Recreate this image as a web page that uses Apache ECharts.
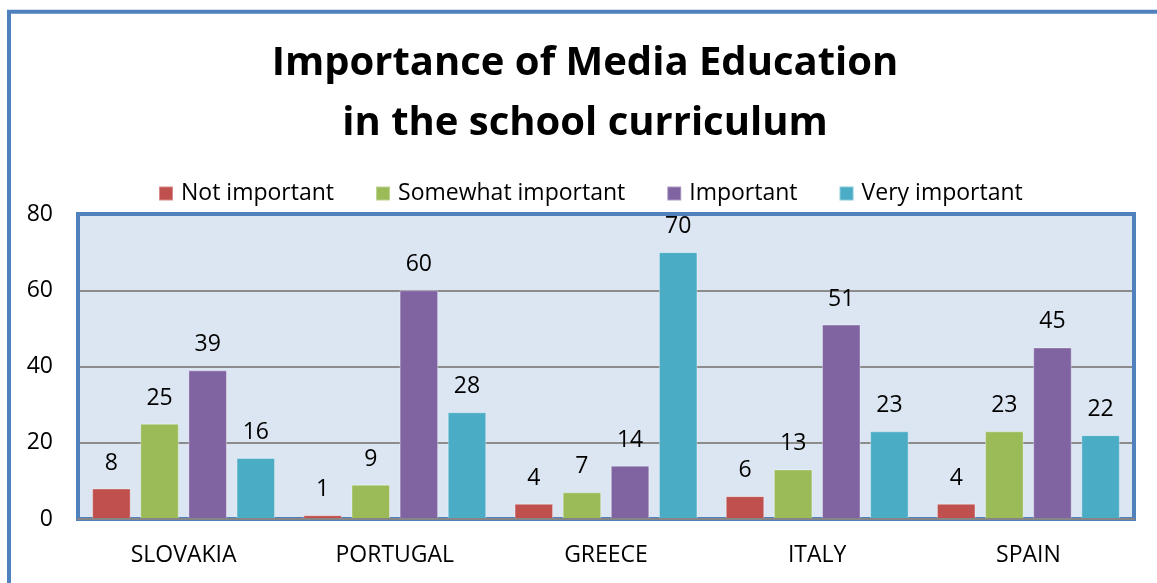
<!DOCTYPE html>
<html>
<head>
<meta charset="utf-8">
<script src="https://cdn.jsdelivr.net/npm/echarts@6/dist/echarts.min.js"></script>
<style>
  html, body { margin: 0; padding: 0; background: #ffffff; }
  #chart { width: 1157px; height: 583px; }
</style>
</head>
<body>
<div id="chart"></div>
<script>
// Survey results by country (percent of respondents)
const countries = ['SLOVAKIA', 'PORTUGAL', 'GREECE', 'ITALY', 'SPAIN'];
const seriesNames = ['Not important', 'Somewhat important', 'Important', 'Very important'];
const notImportant = [8, 1, 4, 6, 4];
const somewhatImportant = [25, 9, 7, 13, 23];
const important = [39, 60, 14, 51, 45];
const veryImportant = [16, 28, 70, 23, 22];
const yTicks = [0, 20, 40, 60, 80];
const titleText = 'Importance of Media Education\nin the school curriculum';

const colors = ['#c0504d', '#9bbb59', '#8064a2', '#4bacc6'];
const FONT = '"Open Sans", "DejaVu Sans", sans-serif';

const gridBox = { left: 78, top: 214, right: 23, bottom: 64 };
const W = 1157, H = 583;

const values = [notImportant, somewhatImportant, important, veryImportant];

const chart = echarts.init(document.getElementById('chart'), null, { renderer: 'canvas' });

chart.setOption({
  animation: false,
  backgroundColor: '#ffffff',
  legend: {
    data: seriesNames,
    left: 158,
    top: 182,
    padding: 0,
    itemWidth: 14,
    itemHeight: 14,
    itemGap: 41,
    icon: 'rect',
    textStyle: {
      fontFamily: FONT,
      fontSize: 23,
      color: '#000000',
      padding: [0, 0, 0, 3]
    }
  },
  grid: {
    left: gridBox.left,
    top: gridBox.top,
    right: gridBox.right,
    bottom: gridBox.bottom,
    show: true,
    backgroundColor: '#dce6f2',
    borderWidth: 0,
    containLabel: false
  },
  xAxis: {
    type: 'category',
    data: countries,
    z: 5,
    axisLine: { show: true, lineStyle: { color: '#868686', width: 2 } },
    axisTick: { show: false },
    axisLabel: {
      fontFamily: FONT,
      fontSize: 23,
      color: '#000000',
      margin: 25
    }
  },
  yAxis: {
    type: 'value',
    min: yTicks[0],
    max: yTicks[yTicks.length - 1],
    interval: 20,
    axisLine: { show: false },
    axisTick: { show: false },
    splitLine: { show: true, lineStyle: { color: '#8c8c8c', width: 2 } },
    axisLabel: {
      fontFamily: FONT,
      fontSize: 23,
      color: '#000000',
      margin: 25
    }
  },
  graphic: [
    {
      // chart title, two centred lines
      type: 'text',
      z: 10,
      x: 585,
      y: 34,
      style: {
        text: titleText,
        fontFamily: FONT,
        fontWeight: 'bold',
        fontSize: 40,
        lineHeight: 60,
        fill: '#000000',
        align: 'center',
        verticalAlign: 'top'
      }
    },
    {
      // outer frame of the chart
      type: 'rect',
      z: 0,
      shape: { x: 9, y: 11.7, width: 1400, height: 900 },
      style: { fill: 'none', stroke: '#4f81bd', lineWidth: 4 }
    },
    {
      // frame round the plot area
      type: 'rect',
      z: 1,
      shape: {
        x: gridBox.left,
        y: gridBox.top,
        width: W - gridBox.left - gridBox.right,
        height: H - gridBox.top - gridBox.bottom
      },
      style: { fill: 'none', stroke: '#4f81bd', lineWidth: 4 }
    }
  ],
  series: values.map((arr, i) => ({
    name: seriesNames[i],
    type: 'bar',
    data: arr,
    barWidth: 38.5,
    barGap: '25%',
    itemStyle: {
      color: colors[i],
      borderColor: 'rgba(255,255,255,0.35)',
      borderWidth: 1
    },
    label: {
      show: true,
      position: 'top',
      distance: 14,
      fontFamily: FONT,
      fontSize: 23,
      color: '#000000'
    }
  }))
});
</script>
</body>
</html>
